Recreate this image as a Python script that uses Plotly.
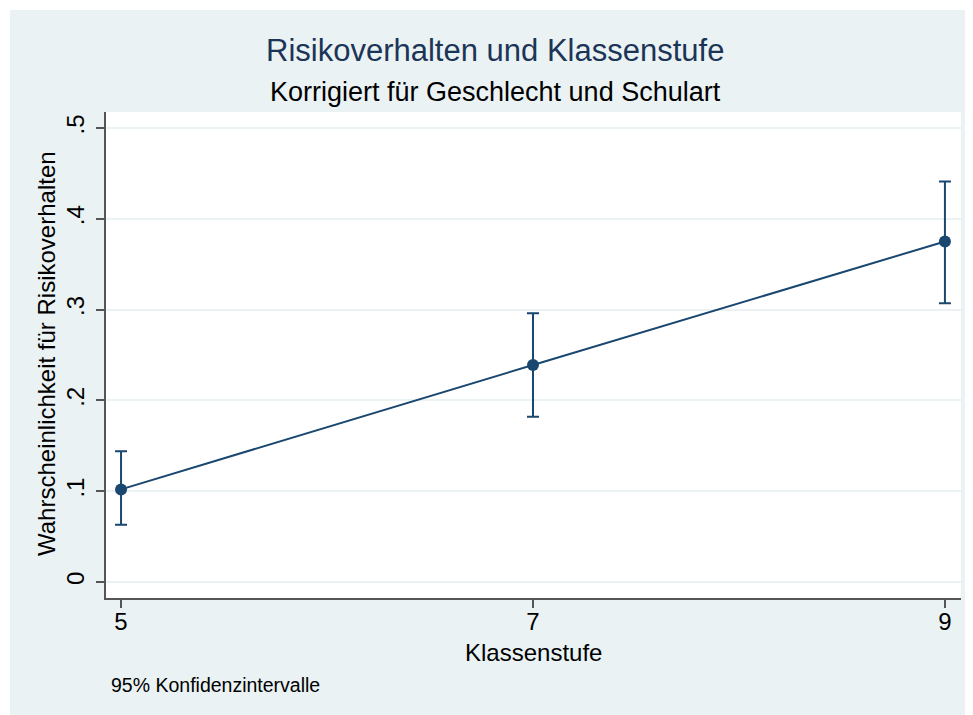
import plotly.graph_objects as go

# Data
klassenstufe = [5, 7, 9]
wahrscheinlichkeit = [0.102, 0.239, 0.375]
ci_lower = [0.063, 0.182, 0.307]
ci_upper = [0.144, 0.296, 0.441]

x_ticks = [5, 7, 9]
x_ticklabels = ["5", "7", "9"]
y_ticks = [0, 0.1, 0.2, 0.3, 0.4, 0.5]
y_ticklabels = ["0", ".1", ".2", ".3", ".4", ".5"]

navy = "#1a476f"
bg = "#eaf2f3"
font_family = "Liberation Sans, Arial, Helvetica, sans-serif"

err_plus = [u - v for u, v in zip(ci_upper, wahrscheinlichkeit)]
err_minus = [v - l for v, l in zip(wahrscheinlichkeit, ci_lower)]

fig = go.Figure()
fig.add_trace(go.Scatter(
    x=klassenstufe, y=wahrscheinlichkeit,
    mode="lines+markers",
    line=dict(color=navy, width=2),
    marker=dict(color=navy, size=12),
    error_y=dict(type="data", symmetric=False, array=err_plus, arrayminus=err_minus,
                 color=navy, thickness=2, width=6),
    showlegend=False,
))

# page has an 8px body margin; figure placed at (8, 8)
OFF = 8
W, H = 973 - OFF, 715 - OFF
ml, mr, mt, mb = 106 - OFF, 12, 112 - OFF, 117
pw, ph = W - ml - mr, H - mt - mb

def px_x(px):  # page px -> paper x
    return (px - OFF - ml) / pw

def px_y(py):  # page px -> paper y
    return (H - mb - (py - OFF)) / ph

fig.update_layout(
    width=W, height=H,
    margin=dict(l=ml, r=mr, t=mt, b=mb, pad=0),
    paper_bgcolor=bg,
    plot_bgcolor="white",
    font=dict(family=font_family, color="black", size=24),
    xaxis=dict(
        range=[4.927, 9.078],
        tickmode="array", tickvals=x_ticks, ticktext=x_ticklabels,
        ticks="outside", ticklen=8, tickwidth=1.5, tickcolor="#555555",
        showline=True, linecolor="#555555", linewidth=1.5,
        showgrid=False, zeroline=False,
        tickfont=dict(size=24, color="black"),
        ticklabelstandoff=-7,
    ),
    yaxis=dict(
        range=[-0.0176, 0.5176],
        tickmode="array", tickvals=y_ticks, ticktext=y_ticklabels,
        tickangle=-90,
        ticks="outside", ticklen=8, tickwidth=1.5, tickcolor="#555555",
        showline=True, linecolor="#555555", linewidth=1.5,
        showgrid=True, gridcolor=bg, gridwidth=1.5, zeroline=False,
        tickfont=dict(size=24, color="black"),
        ticklabelstandoff=3,
    ),
    shapes=[
        dict(type="rect", xref="paper", yref="paper",
             x0=px_x(0), x1=px_x(10), y0=px_y(720), y1=px_y(0),
             fillcolor="white", line=dict(width=0), layer="above"),
        dict(type="rect", xref="paper", yref="paper",
             x0=px_x(0), x1=px_x(980), y0=px_y(10), y1=px_y(0),
             fillcolor="white", line=dict(width=0), layer="above"),
    ],
    annotations=[
        dict(text="Risikoverhalten und Klassenstufe", xref="paper", yref="paper",
             x=px_x(495), y=px_y(51), xanchor="center", yanchor="middle",
             showarrow=False, font=dict(size=31, color="#1c3557")),
        dict(text="Korrigiert für Geschlecht und Schulart", xref="paper", yref="paper",
             x=px_x(495), y=px_y(92), xanchor="center", yanchor="middle",
             showarrow=False, font=dict(size=27, color="black")),
        dict(text="Wahrscheinlichkeit für Risikoverhalten", xref="paper", yref="paper",
             x=px_x(46), y=px_y(354), xanchor="center", yanchor="middle", textangle=-90,
             showarrow=False, font=dict(size=24, color="black")),
        dict(text="Klassenstufe", xref="paper", yref="paper",
             x=px_x(533), y=px_y(652), xanchor="center", yanchor="middle",
             showarrow=False, font=dict(size=24, color="black")),
        dict(text="95% Konfidenzintervalle", xref="paper", yref="paper",
             x=px_x(109), y=px_y(685), xanchor="left", yanchor="middle",
             showarrow=False, font=dict(size=19.5, color="black")),
    ],
)

fig.write_html("out.html")
